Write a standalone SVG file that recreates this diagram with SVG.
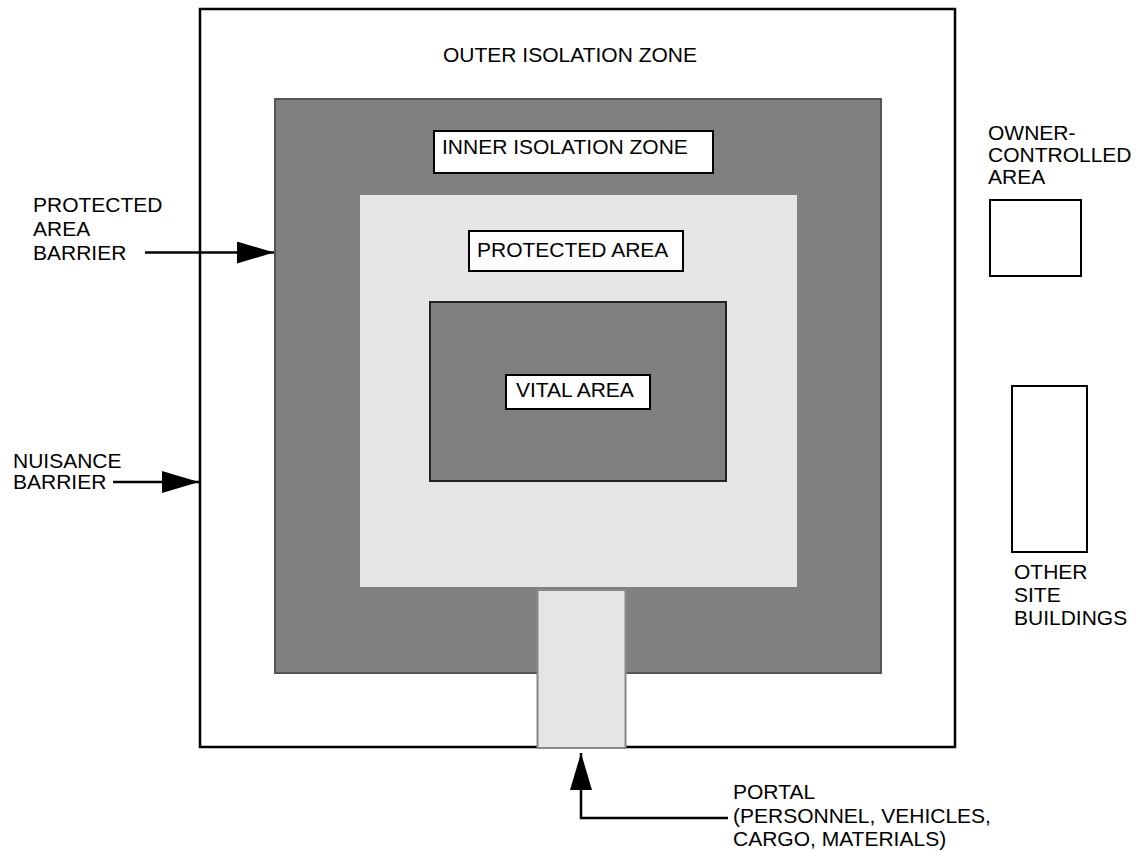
<svg xmlns="http://www.w3.org/2000/svg" width="1138" height="851" viewBox="0 0 1138 851">
<style>
text{font-family:"Liberation Sans",Arial,sans-serif;font-size:21px;fill:#000}
.lbl{fill:#fff;stroke:#000;stroke-width:2}
.conn{fill:none;stroke:#000;stroke-width:2.5}
</style>
<defs>
<marker id="ah" markerUnits="userSpaceOnUse" markerWidth="38" markerHeight="24" refX="37" refY="11" orient="auto">
<path d="M0,0 L37,11 L0,22 Z" fill="#000"/>
</marker>
</defs>
<rect width="1138" height="851" fill="#fff"/>
<g id="outer-isolation-zone">
<rect x="200" y="9" width="755" height="738" fill="#fff" stroke="#000" stroke-width="2.5"/>
<text x="443" y="62">OUTER ISOLATION ZONE</text>
</g>
<g id="inner-isolation-zone">
<rect x="275" y="99" width="606" height="574" fill="#808080" stroke="#555" stroke-width="2"/>
<rect class="lbl" x="434" y="131" width="279" height="42"/>
<text x="442" y="154">INNER ISOLATION ZONE</text>
</g>
<g id="protected-area">
<rect x="360" y="195" width="437" height="392" fill="#e5e5e5"/>
<rect class="lbl" x="469" y="231" width="214" height="40"/>
<text x="477" y="257">PROTECTED AREA</text>
</g>
<g id="vital-area">
<rect x="430" y="302" width="296" height="179" fill="#808080" stroke="#222" stroke-width="2"/>
<rect class="lbl" x="506" y="375" width="144" height="34"/>
<text x="516" y="397">VITAL AREA</text>
</g>
<g id="portal">
<rect x="537.5" y="590" width="88" height="158" fill="#e5e5e5" stroke="#888" stroke-width="2"/>
<text x="733" y="799">PORTAL</text>
<text x="733" y="823">(PERSONNEL, VEHICLES,</text>
<text x="733" y="846">CARGO, MATERIALS)</text>
</g>
<g id="owner-controlled-area">
<text x="988" y="140">OWNER-</text>
<text x="988" y="162">CONTROLLED</text>
<text x="988" y="184">AREA</text>
<rect x="990" y="200" width="91" height="76" fill="#fff" stroke="#000" stroke-width="2"/>
</g>
<g id="other-site-buildings">
<rect x="1012" y="386" width="75" height="166" fill="#fff" stroke="#000" stroke-width="2"/>
<text x="1014" y="579">OTHER</text>
<text x="1014" y="602">SITE</text>
<text x="1014" y="625">BUILDINGS</text>
</g>
<g id="protected-area-barrier">
<text x="33" y="212">PROTECTED</text>
<text x="33" y="236">AREA</text>
<text x="33" y="260">BARRIER</text>
</g>
<g id="nuisance-barrier">
<text x="13" y="468">NUISANCE</text>
<text x="13" y="489">BARRIER</text>
</g>
<g id="connectors">
<path class="conn" d="M145,252.5 L274,252.5" marker-end="url(#ah)"/>
<path class="conn" d="M113,482 L199,482" marker-end="url(#ah)"/>
<path class="conn" d="M728,818 L581,818 L581,753" marker-end="url(#ah)"/>
</g>
</svg>
